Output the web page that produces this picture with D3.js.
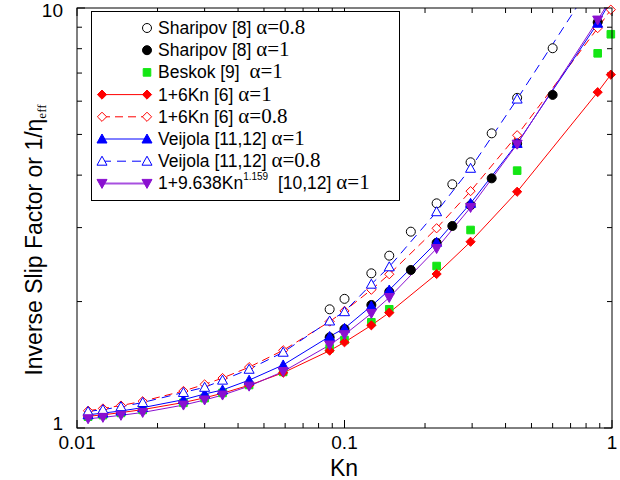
<!DOCTYPE html>
<html>
<head>
<meta charset="utf-8">
<script src="https://cdn.jsdelivr.net/npm/d3@7"></script>
<style>
  body { margin: 0; background: #fff; }
  text { white-space: pre; }
</style>
</head>
<body>
<div id="vis-container"></div>
<script>
// Knudsen numbers used by the model curves and by Sharipov's data
const knModel = [0.011, 0.0125, 0.0146, 0.0176, 0.025, 0.03, 0.035, 0.044, 0.059,
  0.088, 0.1, 0.126, 0.147, 0.221, 0.296, 0.442, 0.884, 0.99];
const knSharipov = [0.088, 0.1, 0.126, 0.147, 0.177, 0.221, 0.253, 0.296, 0.355, 0.442, 0.6, 0.884];

// values (inverse slip factor)
const sharipov08 = [1.917, 2.03, 2.335, 2.572, 2.934, 3.427, 3.804, 4.292, 5.03, 6.11, 8.02, null];
const sharipov1 = [1.644, 1.72, 1.963, 2.111, 2.378, 2.76, 3.027, 3.39, 3.93, 4.76, 6.21, 9.25];
const beskok1 = [1.064, 1.073, 1.086, 1.104, 1.148, 1.178, 1.212, 1.266, 1.36,
  1.548, 1.62, 1.785, 1.917, 2.43, 2.961, 4.1, 7.8, 8.66];
const sixKn1 = [1.066, 1.075, 1.088, 1.106, 1.15, 1.18, 1.21, 1.264, 1.354,
  1.528, 1.6, 1.756, 1.882, 2.326, 2.776, 3.652, 6.304, 6.94];
const sixKn08 = [1.099, 1.113, 1.131, 1.158, 1.225, 1.27, 1.315, 1.396, 1.531,
  1.792, 1.9, 2.134, 2.323, 2.989, 3.664, 4.978, 8.956, 9.91];
const veijola1 = [1.075, 1.085, 1.098, 1.118, 1.168, 1.205, 1.232, 1.3, 1.413,
  1.652, 1.727, 1.952, 2.131, 2.768, 3.427, 4.76, 9.2, 10.4];
const veijola08 = [1.095, 1.106, 1.124, 1.15, 1.215, 1.25, 1.3, 1.38, 1.515,
  1.798, 1.892, 2.2, 2.42, 3.273, 4.153, 6.07, 12, null];
const fit1 = [1.052, 1.06, 1.072, 1.089, 1.134, 1.166, 1.198, 1.258, 1.363,
  1.576, 1.668, 1.874, 2.045, 2.675, 3.351, 4.74, 9.36, 10.53];

const xMajor = [0.01, 0.1, 1];
const xMinor = [0.02, 0.03, 0.04, 0.05, 0.06, 0.07, 0.08, 0.09, 0.2, 0.3, 0.4, 0.5, 0.6, 0.7, 0.8, 0.9];
const yMajor = [1, 10];
const yMinor = [2, 3, 4, 5, 6, 7, 8, 9];

const SANS = "'Liberation Sans', Arial, sans-serif";
const SERIF = "'Liberation Serif', 'Times New Roman', serif";

const width = 620, height = 480;
const plot = { left: 77, right: 612, top: 8, bottom: 428 };

const x = d3.scaleLog().domain([0.01, 1]).range([plot.left, plot.right]);
const y = d3.scaleLog().domain([1, 10]).range([plot.bottom, plot.top]);

const svg = d3.select("#vis-container")
  .append("svg")
  .attr("width", width)
  .attr("height", height);

svg.append("clipPath").attr("id", "clip")
  .append("rect")
  .attr("x", plot.left).attr("y", plot.top)
  .attr("width", plot.right - plot.left).attr("height", plot.bottom - plot.top);

// series, drawn in this order (later ones on top)
const series = [
  { kn: knSharipov, v: sharipov08, marker: "circle", fill: "#fff", stroke: "#000", dash: null, line: false,
    label: [["Sharipov [8] ", SANS], ["α=0.8", SERIF]] },
  { kn: knSharipov, v: sharipov1, marker: "circle", fill: "#000", stroke: "#000", dash: null, line: false,
    label: [["Sharipov [8] ", SANS], ["α=1", SERIF]] },
  { kn: knModel, v: beskok1, marker: "square", fill: "#14e614", stroke: "#14e614", dash: null, line: false,
    label: [["Beskok [9]  ", SANS], ["α=1", SERIF]] },
  { kn: knModel, v: sixKn1, marker: "diamond", fill: "#ff0000", stroke: "#ff0000", dash: null, line: true,
    label: [["1+6Kn [6] ", SANS], ["α=1", SERIF]] },
  { kn: knModel, v: sixKn08, marker: "diamond", fill: "#fff", stroke: "#ff0000", dash: "8,5", line: true,
    label: [["1+6Kn [6] ", SANS], ["α=0.8", SERIF]] },
  { kn: knModel, v: veijola1, marker: "up", fill: "#0000ff", stroke: "#0000ff", dash: null, line: true,
    label: [["Veijola [11,12] ", SANS], ["α=1", SERIF]] },
  { kn: knModel, v: veijola08, marker: "up", fill: "#fff", stroke: "#0000ff", dash: "9,6", line: true,
    label: [["Veijola [11,12] ", SANS], ["α=0.8", SERIF]] },
  { kn: knModel, v: fit1, marker: "down", fill: "#8a10d0", stroke: "#8a10d0", dash: null, line: true,
    label: [["1+9.638Kn", SANS], ["1.159", SANS, "sup"], ["  [10,12] ", SANS], ["α=1", SERIF]] }
];

const markerPath = {
  circle: "M4.5,0A4.5,4.5 0 1,1 -4.5,0A4.5,4.5 0 1,1 4.5,0Z",
  square: "M-3.8,-3.8H3.8V3.8H-3.8Z",
  diamond: "M0,-4.6L4.6,0L0,4.6L-4.6,0Z",
  up: "M0,-5L5,4L-5,4Z",
  down: "M0,5L5,-4L-5,-4Z"
};

function drawMarker(g, s, cx, cy) {
  g.append("path")
    .attr("d", markerPath[s.marker])
    .attr("transform", "translate(" + cx + "," + cy + ")")
    .attr("fill", s.fill)
    .attr("stroke", s.stroke)
    .attr("stroke-width", 1);
}

// frame ticks (inside)
const axes = svg.append("g").attr("stroke", "#000").attr("stroke-width", 1);
function tickX(v, len) {
  axes.append("line").attr("x1", x(v)).attr("x2", x(v)).attr("y1", plot.bottom).attr("y2", plot.bottom - len);
  axes.append("line").attr("x1", x(v)).attr("x2", x(v)).attr("y1", plot.top).attr("y2", plot.top + len);
}
function tickY(v, len) {
  axes.append("line").attr("y1", y(v)).attr("y2", y(v)).attr("x1", plot.left).attr("x2", plot.left + len);
  axes.append("line").attr("y1", y(v)).attr("y2", y(v)).attr("x1", plot.right).attr("x2", plot.right - len);
}
xMinor.forEach((v) => tickX(v, 5));
xMajor.forEach((v) => tickX(v, 8));
yMinor.forEach((v) => tickY(v, 5));
yMajor.forEach((v) => tickY(v, 8));

// tick labels
svg.selectAll(".xlab")
  .data(xMajor)
  .enter()
  .append("text")
  .attr("x", (d) => x(d))
  .attr("y", 449)
  .attr("text-anchor", "middle")
  .style("font-family", SANS)
  .style("font-size", "19px")
  .text((d) => d3.format("~g")(d));

svg.selectAll(".ylab")
  .data(yMajor)
  .enter()
  .append("text")
  .attr("x", 63)
  .attr("y", (d) => (d === 1 ? y(d) + 2 : y(d) + 9))
  .attr("text-anchor", "end")
  .style("font-family", SANS)
  .style("font-size", "19px")
  .text((d) => d);

// axis titles
svg.append("text")
  .attr("x", 344)
  .attr("y", 476)
  .attr("text-anchor", "middle")
  .style("font-family", SANS)
  .style("font-size", "23px")
  .text("Kn");

const ylab = svg.append("text")
  .attr("transform", "translate(42,240) rotate(-90)")
  .attr("text-anchor", "middle")
  .style("font-family", SANS)
  .style("font-size", "23px");
ylab.append("tspan").text("Inverse Slip Factor or 1/η");
ylab.append("tspan").attr("dy", 4).style("font-size", "13px").style("font-family", SERIF).text("eff");

// data
const dataG = svg.append("g").attr("clip-path", "url(#clip)");
series.forEach((s) => {
  const pts = s.kn.map((k, i) => [k, s.v[i]]).filter((p) => p[1] != null);
  if (s.line) {
    dataG.append("path")
      .datum(pts)
      .attr("fill", "none")
      .attr("stroke", s.stroke)
      .attr("stroke-width", 1)
      .attr("stroke-dasharray", s.dash)
      .attr("d", d3.line().x((d) => x(d[0])).y((d) => y(d[1])));
  }
});
const markG = svg.append("g");
series.forEach((s) => {
  s.kn.forEach((k, i) => {
    const v = s.v[i];
    if (v == null || v > 10) return;
    drawMarker(markG, s, x(k), y(v));
  });
});

// frame
svg.append("rect")
  .attr("x", plot.left).attr("y", plot.top)
  .attr("width", plot.right - plot.left).attr("height", plot.bottom - plot.top)
  .attr("fill", "none").attr("stroke", "#000").attr("stroke-width", 1);

// legend
const legend = svg.append("g");
legend.append("rect")
  .attr("x", 91.5).attr("y", 11.5)
  .attr("width", 308).attr("height", 189)
  .attr("fill", "#fff").attr("stroke", "#000").attr("stroke-width", 1);

series.forEach((s, i) => {
  const cy = 28 + i * 22.2;
  if (s.line) {
    legend.append("line")
      .attr("x1", 102).attr("x2", 147).attr("y1", cy).attr("y2", cy)
      .attr("stroke", s.marker === "down" ? "#a850e0" : s.stroke)
      .attr("stroke-width", s.marker === "down" ? 2 : 1)
      .attr("stroke-dasharray", s.dash);
    drawMarker(legend, s, 102, cy);
  }
  drawMarker(legend, s, 147, cy);
  const t = legend.append("text")
    .attr("x", 158)
    .attr("y", cy + 6)
    .style("font-size", "17.5px");
  s.label.forEach((part) => {
    const ts = t.append("tspan").style("font-family", part[1]).text(part[0]);
    if (part[1] === SERIF) ts.style("font-size", "21px");
    if (part[2] === "sup") {
      ts.attr("dy", -9).style("font-size", "10px");
    } else if (part[0].startsWith("  [")) {
      ts.attr("dy", 9);
    }
  });
});
</script>
</body>
</html>
